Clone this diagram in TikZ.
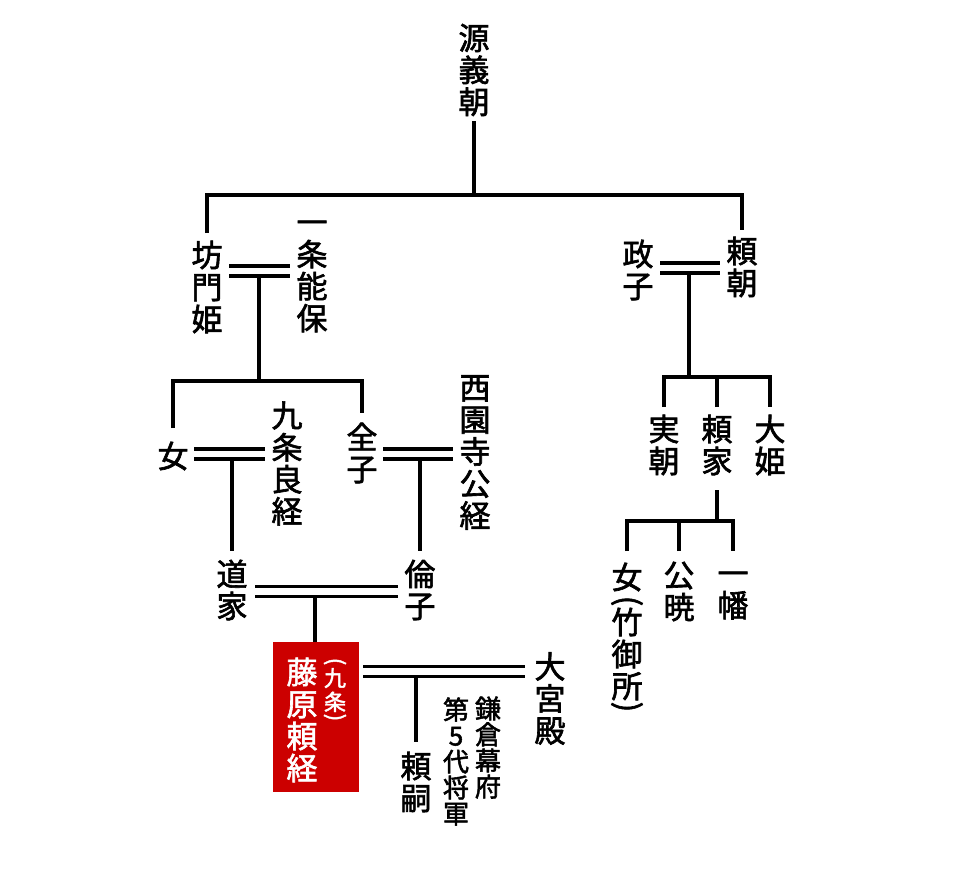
\documentclass[tikz,border=0pt]{standalone}
\usepackage{fontspec}
\newfontfamily\jp{Noto Sans CJK JP}[FakeBold=2]
\definecolor{kred}{RGB}{204,0,0}
\begin{document}
\begin{tikzpicture}[x=1pt,y=-1pt,
  vt/.style={font=\jp\fontsize{31}{32}\selectfont, align=center, inner sep=0pt},
  vts/.style={font=\jp\fontsize{26}{26}\selectfont, align=center, inner sep=0pt},
  vtx/.style={font=\jp\fontsize{22}{24}\selectfont, align=center, inner sep=0pt, text=white},
  parenv/.style={font=\jp\fontsize{31}{32}\selectfont, inner sep=0pt},
  parenx/.style={font=\jp\fontsize{22}{24}\selectfont, inner sep=0pt, text=white},
  ln/.style={line width=3.3pt},
  dbl/.style={line width=3.3pt, double=white, double distance=6.6pt}]
\useasboundingbox[fill=white] (0,0) rectangle (960,879);

% ---- names ----
\node[vt] (yoshitomo) at (474,70) {源\\義\\朝};
\node[vt] (bomon) at (207,287) {坊\\門\\姫};
\node[vt] (yoshiyasu) at (312,276.5) {一\\条\\能\\保};
\node[vt] (masako) at (638,270) {政\\子};
\node[vt] (yoritomo) at (742,267) {頼\\朝};
\node[vt] (onna1) at (173,456) {女};
\node[vt] (yoshitsune) at (287,463.5) {九\\条\\良\\経};
\node[vt] (zenshi) at (362,453) {全\\子};
\node[vt] (kintsune) at (475,452.5) {西\\園\\寺\\公\\経};
\node[vt] (sanetomo) at (664,445) {実\\朝};
\node[vt] (yoriie) at (717,445) {頼\\家};
\node[vt] (ohime) at (770,445) {大\\姫};
\node[vt] (michiie) at (232,590) {道\\家};
\node[vt] (rinshi) at (420,590) {倫\\子};
\node[fill=kred, minimum width=86pt, minimum height=150pt, inner sep=0pt] (box) at (316,717) {};
\node[vt, text=white] (yoritsune) at (302,720) {藤\\原\\頼\\経};
\node[vtx] (kujo) at (335,690) {九\\条};
\node[parenx] (kujoL) at (335,661.5) {\rotatebox{-90}{(}};
\node[parenx] (kujoR) at (335,717.5) {\rotatebox{-90}{)}};
\node[vt] (omiya) at (550,698.5) {大\\宮\\殿};
\node[vt] (yoritsugu) at (416,782) {頼\\嗣};
\node[vts] (dai5) at (456,761.5) {第\\5\\代\\将\\軍};
\node[vts] (kamakura) at (488,747.5) {鎌\\倉\\幕\\府};
\node[vt] (onna2) at (627,577) {女};
\node[parenv] (takeL) at (627,601) {\rotatebox{-90}{(}};
\node[vt] (take) at (627,654) {竹\\御\\所};
\node[parenv] (takeR) at (627,707) {\rotatebox{-90}{)}};
\node[vt] (kugyo) at (679,591.5) {公\\暁};
\node[vt] (ichiman) at (733,595.5) {一\\幡};

% ---- junctions ----
\coordinate (j0) at (474,195);
\coordinate (mA) at (259,271);
\coordinate (jA) at (259,381);
\coordinate (mB) at (232,454);
\coordinate (mC) at (420,454);
\coordinate (mD) at (315,591.5);
\coordinate (mE) at (416,671.5);
\coordinate (mF) at (689,268);
\coordinate (jF) at (689,377);
\coordinate (jG) at (717,521);

% ---- connectors ----
\draw[ln] (yoshitomo.south |- 0,121) -- (j0);
\draw[ln] (bomon.north |- 0,233) |- (j0) -| (yoritomo.north |- 0,230);

\draw[dbl] (229,271) -- (290,271);
\draw[ln] (259,275) -- (jA);
\draw[ln] (onna1.north |- 0,428) |- (jA) -| (zenshi.north |- 0,413);

\draw[dbl] (194,454) -- (265,454);
\draw[ln] (michiie.north |- 0,458) -- (michiie.north |- 0,551);
\draw[dbl] (383,454) -- (453,454);
\draw[ln] (rinshi.north |- 0,458) -- (rinshi.north |- 0,551);

\draw[dbl] (255,591.5) -- (398,591.5);
\draw[ln] (315,595) -- (box.north -| 315,0);

\draw[dbl] (363,671.5) -- (525,671.5);
\draw[ln] (416,675) -- (yoritsugu.north |- 0,742);

\draw[dbl] (660,268) -- (720,268);
\draw[ln] (689,272) -- (jF);
\draw[ln] (sanetomo.north |- 0,407) |- (jF) -| (ohime.north |- 0,407);
\draw[ln] (yoriie.north |- 0,407) -- (yoriie.north |- jF);

\draw[ln] (yoriie.south |- 0,490) -- (jG);
\draw[ln] (onna2.north |- 0,551) |- (jG) -| (ichiman.north |- 0,551);
\draw[ln] (kugyo.north |- 0,551) -- (kugyo.north |- jG);
\end{tikzpicture}
\end{document}
